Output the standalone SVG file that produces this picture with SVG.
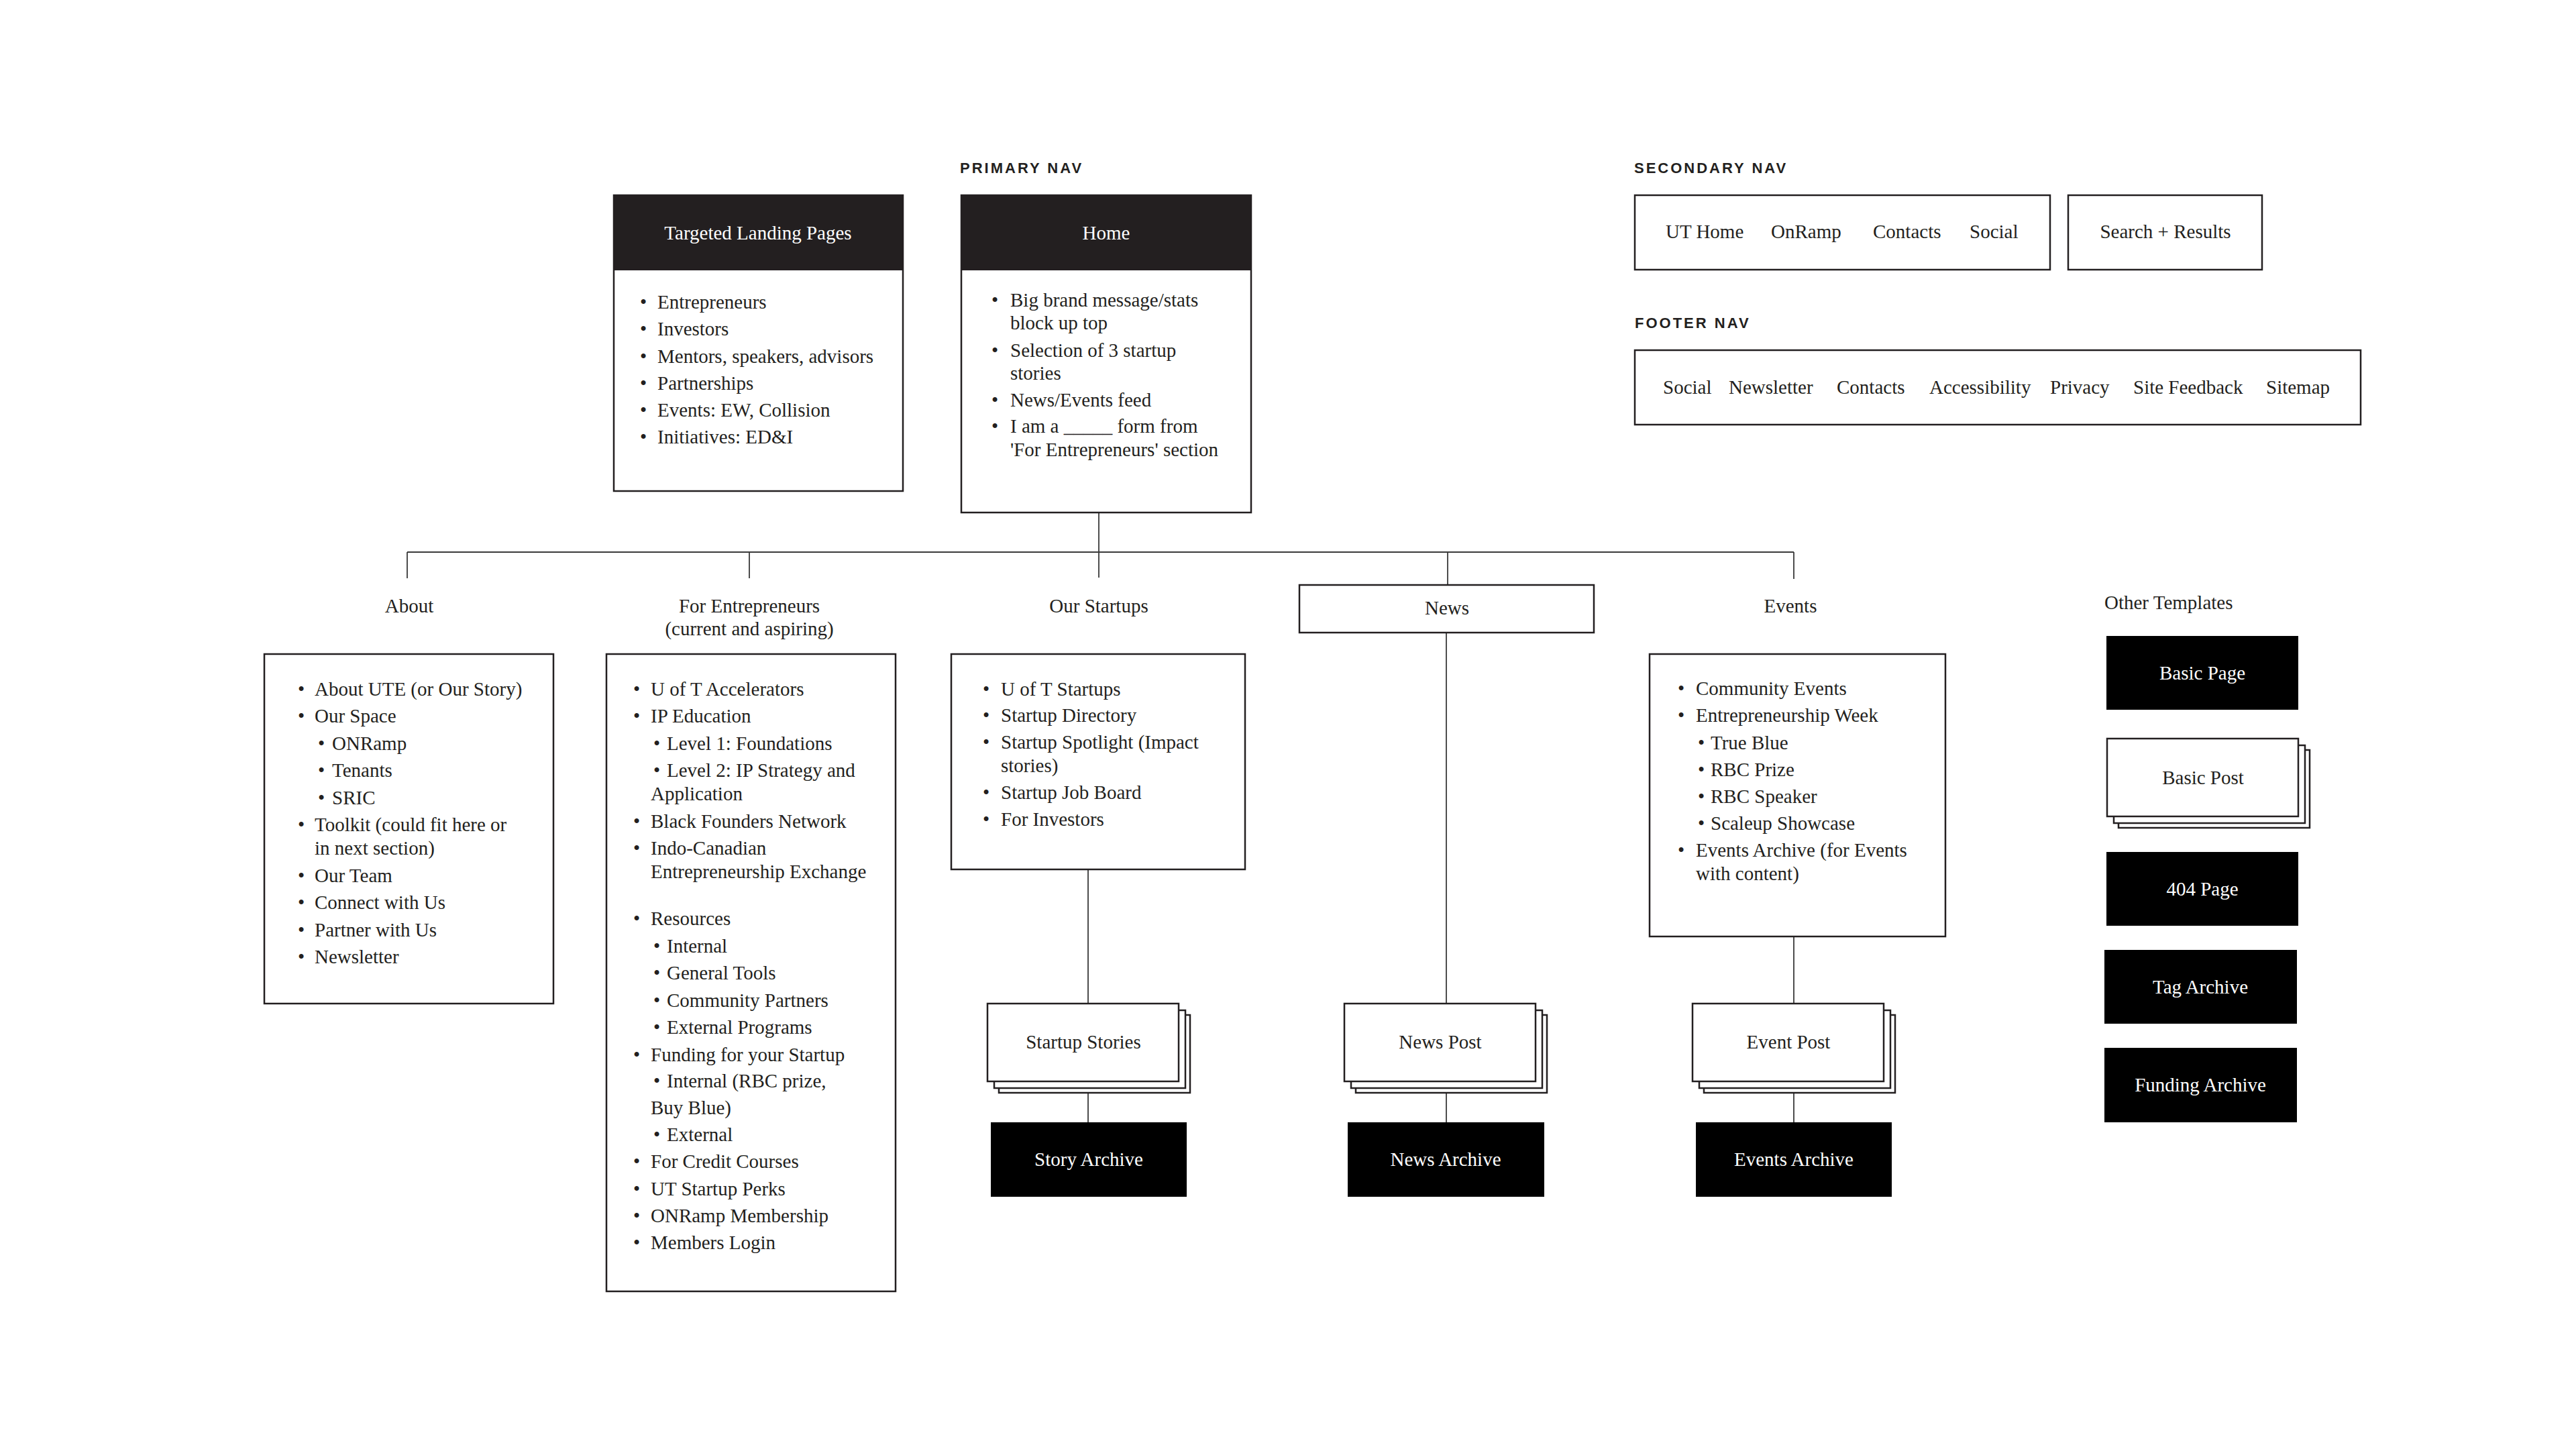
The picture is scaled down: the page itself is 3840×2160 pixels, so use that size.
<svg xmlns="http://www.w3.org/2000/svg" xmlns:xlink="http://www.w3.org/1999/xlink" width="3840" height="2160" viewBox="0 0 3840 2160">
<style>
.box{fill:#fff;stroke:#231f20;stroke-width:2.5}
.hdr{fill:#231f20}
.blk{fill:#000}
.t{font-family:"Liberation Serif","Times New Roman",serif;font-size:29px;fill:#231f20}
.w{fill:#fff}
.c{text-anchor:middle}
.nav{font-family:"Liberation Sans",Arial,sans-serif;font-weight:700;font-size:22px;letter-spacing:3px;fill:#231f20}
.con{stroke:#3a3a3a;stroke-width:1.8;fill:none}
</style>
<defs>
<g id="stack">
<rect class="box" x="17" y="17" width="285" height="116"/>
<rect class="box" x="10" y="10" width="285" height="116"/>
<rect class="box" x="0" y="0" width="285" height="116"/>
</g>
</defs>
<rect width="3840" height="2160" fill="#fff"/>

<g id="connectors">
<path class="con" d="M1638 764V861M607 823H2674M607 823V862M1117 823V862M2158 823V872M2674 823V863"/>
<path class="con" d="M1622 1296V1496M1622 1628V1673M2156 943V1496M2156 1628V1673M2674 1396V1496M2674 1628V1673"/>
</g>

<g id="labels">
<text class="nav" x="1431" y="258">PRIMARY NAV</text>
<text class="nav" x="2436" y="258">SECONDARY NAV</text>
<text class="nav" x="2437" y="489">FOOTER NAV</text>
<text class="t" x="3137" y="908">Other Templates</text>
</g>

<g id="targeted">
<rect class="box" x="915" y="291" width="431" height="441"/>
<rect class="hdr" x="915" y="291" width="431" height="112"/>
<text class="t w c" x="1130" y="357">Targeted Landing Pages</text>
<g class="t">
<text x="954" y="460">•</text><text x="980" y="460">Entrepreneurs</text>
<text x="954" y="500">•</text><text x="980" y="500">Investors</text>
<text x="954" y="541">•</text><text x="980" y="541">Mentors, speakers, advisors</text>
<text x="954" y="581">•</text><text x="980" y="581">Partnerships</text>
<text x="954" y="621">•</text><text x="980" y="621">Events: EW, Collision</text>
<text x="954" y="661">•</text><text x="980" y="661">Initiatives: ED&amp;I</text>
</g>
</g>

<g id="home">
<rect class="box" x="1433" y="291" width="432" height="473"/>
<rect class="hdr" x="1433" y="291" width="432" height="112"/>
<text class="t w c" x="1649" y="357">Home</text>
<g class="t">
<text x="1478" y="457">•</text><text x="1506" y="457">Big brand message/stats</text>
<text x="1506" y="491">block up top</text>
<text x="1478" y="532">•</text><text x="1506" y="532">Selection of 3 startup</text>
<text x="1506" y="566">stories</text>
<text x="1478" y="606">•</text><text x="1506" y="606">News/Events feed</text>
<text x="1478" y="645">•</text><text x="1506" y="645">I am a _____ form from</text>
<text x="1506" y="680">'For Entrepreneurs' section</text>
</g>
</g>

<g id="secondary-nav">
<rect class="box" x="2437" y="291" width="619" height="111"/>
<g class="t">
<text x="2483" y="355">UT Home</text>
<text x="2640" y="355">OnRamp</text>
<text x="2792" y="355">Contacts</text>
<text x="2936" y="355">Social</text>
</g>
</g>

<g id="search">
<rect class="box" x="3083" y="291" width="289" height="111"/>
<text class="t c" x="3228" y="355">Search + Results</text>
</g>

<g id="footer-nav">
<rect class="box" x="2437" y="522" width="1082" height="111"/>
<g class="t">
<text x="2479" y="587">Social</text>
<text x="2577" y="587">Newsletter</text>
<text x="2738" y="587">Contacts</text>
<text x="2876" y="587">Accessibility</text>
<text x="3056" y="587">Privacy</text>
<text x="3180" y="587">Site Feedback</text>
<text x="3378" y="587">Sitemap</text>
</g>
</g>

<g id="about">
<text class="t c" x="610" y="913">About</text>
<rect class="box" x="394" y="975" width="431" height="521"/>
<g class="t">
<text x="444" y="1037">•</text><text x="469" y="1037">About UTE (or Our Story)</text>
<text x="444" y="1077">•</text><text x="469" y="1077">Our Space</text>
<text x="474" y="1118">•</text><text x="495" y="1118">ONRamp</text>
<text x="474" y="1158">•</text><text x="495" y="1158">Tenants</text>
<text x="474" y="1199">•</text><text x="495" y="1199">SRIC</text>
<text x="444" y="1239">•</text><text x="469" y="1239">Toolkit (could fit here or</text>
<text x="469" y="1274">in next section)</text>
<text x="444" y="1315">•</text><text x="469" y="1315">Our Team</text>
<text x="444" y="1355">•</text><text x="469" y="1355">Connect with Us</text>
<text x="444" y="1396">•</text><text x="469" y="1396">Partner with Us</text>
<text x="444" y="1436">•</text><text x="469" y="1436">Newsletter</text>
</g>
</g>

<g id="for-entrepreneurs">
<text class="t c" x="1117" y="913">For Entrepreneurs</text>
<text class="t c" x="1117" y="947">(current and aspiring)</text>
<rect class="box" x="904" y="975" width="431" height="950"/>
<g class="t">
<text x="944" y="1037">•</text><text x="970" y="1037">U of T Accelerators</text>
<text x="944" y="1077">•</text><text x="970" y="1077">IP Education</text>
<text x="974" y="1118">•</text><text x="994" y="1118">Level 1: Foundations</text>
<text x="974" y="1158">•</text><text x="994" y="1158">Level 2: IP Strategy and</text>
<text x="970" y="1193">Application</text>
<text x="944" y="1234">•</text><text x="970" y="1234">Black Founders Network</text>
<text x="944" y="1274">•</text><text x="970" y="1274">Indo-Canadian</text>
<text x="970" y="1309">Entrepreneurship Exchange</text>
<text x="944" y="1379">•</text><text x="970" y="1379">Resources</text>
<text x="974" y="1420">•</text><text x="994" y="1420">Internal</text>
<text x="974" y="1460">•</text><text x="994" y="1460">General Tools</text>
<text x="974" y="1501">•</text><text x="994" y="1501">Community Partners</text>
<text x="974" y="1541">•</text><text x="994" y="1541">External Programs</text>
<text x="944" y="1582">•</text><text x="970" y="1582">Funding for your Startup</text>
<text x="974" y="1621">•</text><text x="994" y="1621">Internal (RBC prize,</text>
<text x="970" y="1661">Buy Blue)</text>
<text x="974" y="1701">•</text><text x="994" y="1701">External</text>
<text x="944" y="1741">•</text><text x="970" y="1741">For Credit Courses</text>
<text x="944" y="1782">•</text><text x="970" y="1782">UT Startup Perks</text>
<text x="944" y="1822">•</text><text x="970" y="1822">ONRamp Membership</text>
<text x="944" y="1862">•</text><text x="970" y="1862">Members Login</text>
</g>
</g>

<g id="our-startups">
<text class="t c" x="1638" y="913">Our Startups</text>
<rect class="box" x="1418" y="975" width="438" height="321"/>
<g class="t">
<text x="1465" y="1037">•</text><text x="1492" y="1037">U of T Startups</text>
<text x="1465" y="1076">•</text><text x="1492" y="1076">Startup Directory</text>
<text x="1465" y="1116">•</text><text x="1492" y="1116">Startup Spotlight (Impact</text>
<text x="1492" y="1151">stories)</text>
<text x="1465" y="1191">•</text><text x="1492" y="1191">Startup Job Board</text>
<text x="1465" y="1231">•</text><text x="1492" y="1231">For Investors</text>
</g>
</g>

<g id="news">
<rect class="box" x="1937" y="872" width="439" height="71"/>
<text class="t c" x="2157" y="916">News</text>
</g>

<g id="events">
<text class="t c" x="2669" y="913">Events</text>
<rect class="box" x="2459" y="975" width="441" height="421"/>
<g class="t">
<text x="2501" y="1036">•</text><text x="2528" y="1036">Community Events</text>
<text x="2501" y="1076">•</text><text x="2528" y="1076">Entrepreneurship Week</text>
<text x="2531" y="1117">•</text><text x="2550" y="1117">True Blue</text>
<text x="2531" y="1157">•</text><text x="2550" y="1157">RBC Prize</text>
<text x="2531" y="1197">•</text><text x="2550" y="1197">RBC Speaker</text>
<text x="2531" y="1237">•</text><text x="2550" y="1237">Scaleup Showcase</text>
<text x="2501" y="1277">•</text><text x="2528" y="1277">Events Archive (for Events</text>
<text x="2528" y="1312">with content)</text>
</g>
</g>

<g id="startup-stories">
<use xlink:href="#stack" href="#stack" x="1472" y="1496"/>
<text class="t c" x="1615" y="1563">Startup Stories</text>
</g>
<g id="news-post">
<use xlink:href="#stack" href="#stack" x="2004" y="1496"/>
<text class="t c" x="2147" y="1563">News Post</text>
</g>
<g id="event-post">
<use xlink:href="#stack" href="#stack" x="2523" y="1496"/>
<text class="t c" x="2666" y="1563">Event Post</text>
</g>

<g id="story-archive">
<rect class="blk" x="1477" y="1673" width="292" height="111"/>
<text class="t w c" x="1623" y="1738">Story Archive</text>
</g>
<g id="news-archive">
<rect class="blk" x="2009" y="1673" width="293" height="111"/>
<text class="t w c" x="2155" y="1738">News Archive</text>
</g>
<g id="events-archive">
<rect class="blk" x="2528" y="1673" width="292" height="111"/>
<text class="t w c" x="2674" y="1738">Events Archive</text>
</g>

<g id="basic-page">
<rect class="blk" x="3140" y="948" width="286" height="110"/>
<text class="t w c" x="3283" y="1013">Basic Page</text>
</g>
<g id="basic-post">
<use xlink:href="#stack" href="#stack" x="3141" y="1101"/>
<text class="t c" x="3284" y="1169">Basic Post</text>
</g>
<g id="page-404">
<rect class="blk" x="3140" y="1270" width="286" height="110"/>
<text class="t w c" x="3283" y="1335">404 Page</text>
</g>
<g id="tag-archive">
<rect class="blk" x="3137" y="1416" width="287" height="110"/>
<text class="t w c" x="3280" y="1481">Tag Archive</text>
</g>
<g id="funding-archive">
<rect class="blk" x="3137" y="1562" width="287" height="111"/>
<text class="t w c" x="3280" y="1627">Funding Archive</text>
</g>
</svg>
